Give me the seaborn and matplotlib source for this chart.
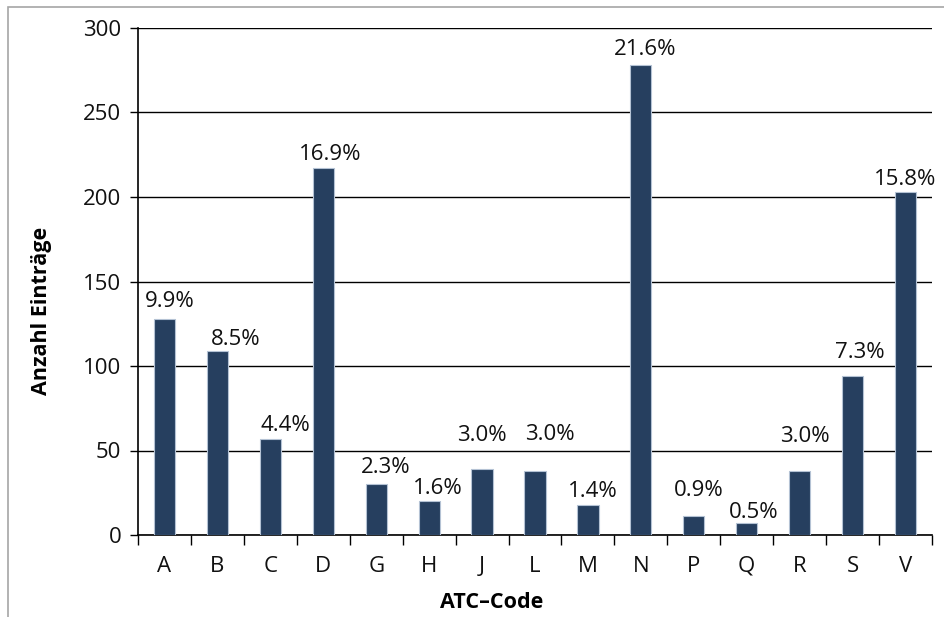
import matplotlib
matplotlib.use("Agg")
import matplotlib.pyplot as plt
import seaborn as sns
import pandas as pd
from matplotlib.patches import Rectangle
from matplotlib.ticker import MultipleLocator, FixedLocator

categories = ["A", "B", "C", "D", "G", "H", "J", "L", "M", "N", "P", "Q", "R", "S", "V"]
counts = [128, 109, 57, 217, 30, 20, 39, 38, 18, 278, 11, 7, 38, 94, 203]
pct_labels = ["9.9%", "8.5%", "4.4%", "16.9%", "2.3%", "1.6%", "3.0%", "3.0%", "1.4%",
              "21.6%", "0.9%", "0.5%", "3.0%", "7.3%", "15.8%"]
# label placement offsets (pixels): horizontal shift, height of label centre above bar top
label_dx = [5, 18, 15, 7, 9, 9, 0, 15, 5, 4, 5, 7, 5, 7, 0]
label_dy = [17, 11, 13, 14, 17, 13, 34, 36, 13, 16, 26, 11, 34, 24, 12]

sns.set_theme(style="white")
plt.rcParams['font.family'] = ['Open Sans', 'DejaVu Sans']

df = pd.DataFrame({"code": categories, "n": counts})

fig = plt.figure(figsize=(9.44, 6.17), dpi=100)
ax = fig.add_axes([138/944, 1 - 535/617, (932-138)/944, (535-28)/617])

# figure frame
fig.patches.append(Rectangle((8/944, -0.5), 2, 1.5 - 7/617, transform=fig.transFigure,
                             fill=False, edgecolor="#A6A6A6", linewidth=1.2, zorder=0))

sns.barplot(data=df, x="code", y="n", ax=ax, color="#263F5F", width=0.4,
            edgecolor="#B4C2D4", linewidth=0.8, saturation=1, zorder=3)

ax.set_ylim(0, 300)
ax.set_xlim(-0.5, len(categories) - 0.5)
ax.yaxis.set_major_locator(MultipleLocator(50))
ax.grid(axis="y", color="black", linewidth=1.0, zorder=0)
ax.grid(axis="x", visible=False)
for side in ["top", "right"]:
    ax.spines[side].set_visible(False)
for side in ["left", "bottom"]:
    ax.spines[side].set_color("black")
    ax.spines[side].set_linewidth(1.2)

ax.tick_params(axis="y", which="major", length=6, width=1.0, color="black",
               labelsize=16, pad=6, left=True, labelcolor="#111111")
ax.tick_params(axis="x", which="major", length=0, labelsize=16, pad=15, labelcolor="#111111")
ax.xaxis.set_minor_locator(FixedLocator([i - 0.5 for i in range(len(categories) + 1)]))
ax.tick_params(axis="x", which="minor", length=7, width=1.0, color="black", bottom=True)

ax.set_xlabel("ATC\u2013Code", fontsize=15.5, fontweight="bold", color="black", va="center")
ax.xaxis.set_label_coords((492 - 138) / 794, -(602 - 535) / 507)
ax.set_ylabel("Anzahl Einträge", fontsize=15.5, fontweight="bold", color="black",
              va="center", ha="center")
ax.yaxis.set_label_coords(-(138 - 42) / 794, (535 - 311) / 507)

for i, (v, lab) in enumerate(zip(counts, pct_labels)):
    ax.annotate(lab, xy=(i, v), xytext=(label_dx[i], label_dy[i]), textcoords="offset pixels",
                ha="center", va="center", fontsize=16, color="#111111", zorder=5)

fig.savefig("out.png", dpi=100)
